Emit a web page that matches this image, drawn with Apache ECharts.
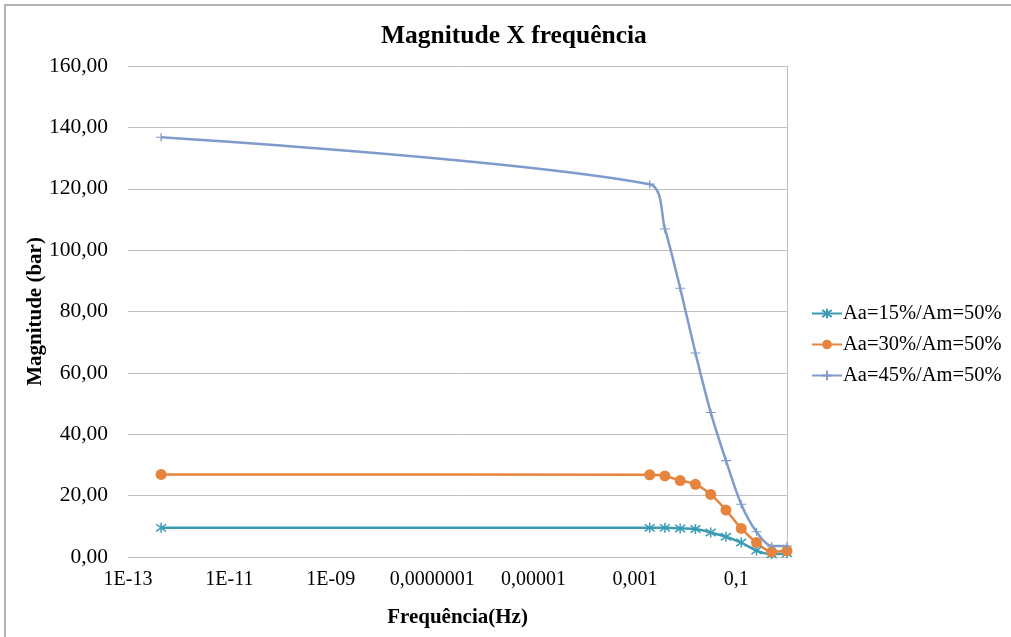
<!DOCTYPE html>
<html>
<head>
<meta charset="utf-8">
<script src="https://cdn.jsdelivr.net/npm/echarts@6/dist/echarts.min.js"></script>
<style>
  html, body { margin: 0; padding: 0; background: #fff; }
  #chart { width: 1011px; height: 637px; }
</style>
</head>
<body>
<div id="chart"></div>
<script>
// Frequency (Hz) of each sample, shared by the three curves
const frequencies = [4.5e-13, 0.001953125, 0.00390625, 0.0078125, 0.015625, 0.03125, 0.0625, 0.125, 0.25, 0.5, 1];

// Magnitude (bar) for each amplitude setting
const mag15 = [9.5, 9.5, 9.5, 9.3, 9.1, 8.0, 6.6, 4.7, 2.1, 0.9, 1.2];
const mag30 = [26.9, 26.8, 26.4, 24.9, 23.7, 20.4, 15.3, 9.3, 4.7, 1.7, 2.0];
const mag45 = [136.8, 121.5, 106.9, 87.6, 66.5, 47.1, 31.4, 17.2, 8.2, 3.6, 3.6];

const seriesNames = ['Aa=15%/Am=50%', 'Aa=30%/Am=50%', 'Aa=45%/Am=50%'];

// Labels shown on the frequency axis, keyed by decade exponent
const xTickLabels = {
  '-13': '1E-13', '-11': '1E-11', '-9': '1E-09', '-7': '0,0000001',
  '-5': '0,00001', '-3': '0,001', '-1': '0,1'
};

const FONT = "'Liberation Serif', 'Times New Roman', serif";
const GRID_COLOR = '#bfbfbf';

const pairs = ys => frequencies.map((f, i) => [f, ys[i]]);

// Marker shapes drawn as stroked paths
const asterisk = 'path://M0,-5L0,5M-3.6,-3.6L3.6,3.6M-3.6,3.6L3.6,-3.6';
const plus = 'path://M-5,0L5,0M0,-4L0,4';

const chart = echarts.init(document.getElementById('chart'));
chart.setOption({
  animation: false,
  backgroundColor: '#ffffff',
  title: {
    text: 'Magnitude X frequência',
    left: 376,
    top: 18,
    textStyle: { fontFamily: FONT, fontSize: 25.5, fontWeight: 'bold', color: '#000' }
  },
  graphic: [{
    type: 'polyline',
    shape: { points: [[5, 700], [5, 5], [1100, 5]] },
    style: { stroke: '#b3b3b3', lineWidth: 2, fill: null }
  }],
  legend: {
    orient: 'vertical',
    left: 806,
    top: 298,
    itemGap: 10,
    itemWidth: 30,
    itemHeight: 12,
    textStyle: { fontFamily: FONT, fontSize: 20.5, color: '#000', padding: [0, 0, 0, -4] },
    data: seriesNames
  },
  grid: { left: 128, right: 224, top: 66, bottom: 80 },
  xAxis: {
    type: 'log',
    logBase: 10,
    min: 1e-13,
    max: 1,
    interval: 1,
    name: 'Frequência(Hz)',
    nameLocation: 'middle',
    nameGap: 50,
    nameTextStyle: { fontFamily: FONT, fontSize: 21, fontWeight: 'bold', color: '#000' },
    axisLine: { show: true, lineStyle: { color: GRID_COLOR, width: 1 } },
    axisTick: { show: false },
    splitLine: { show: false },
    axisLabel: {
      interval: 0,
      margin: 13,
      fontFamily: FONT, fontSize: 20, color: '#000',
      formatter: v => {
        const e = Math.round(Math.log10(v));
        return xTickLabels[String(e)] || '';
      }
    }
  },
  yAxis: [{
    type: 'value',
    min: 0,
    max: 160,
    interval: 20,
    name: 'Magnitude (bar)',
    nameLocation: 'middle',
    nameGap: 82,
    nameMoveOverlap: false,
    nameTextStyle: { fontFamily: FONT, fontSize: 21, fontWeight: 'bold', color: '#000' },
    axisLine: { show: false },
    axisTick: { show: false },
    splitLine: { show: true, lineStyle: { color: GRID_COLOR, width: 1 } },
    axisLabel: {
      margin: 20,
      fontFamily: FONT, fontSize: 21.5, color: '#000',
      formatter: v => v.toFixed(2).replace('.', ',')
    }
  }, {
    type: 'value',
    position: 'right',
    min: 0,
    max: 160,
    interval: 20,
    axisLine: { show: true, lineStyle: { color: GRID_COLOR, width: 1 } },
    axisTick: { show: false },
    axisLabel: { show: false },
    splitLine: { show: false }
  }],
  series: [{
    name: seriesNames[0],
    type: 'line',
    smooth: 0.3,
    data: pairs(mag15),
    symbol: asterisk,
    symbolSize: 10,
    showAllSymbol: true,
    color: '#3b9ab4',
    lineStyle: { width: 2.5, color: '#3b9ab4' },
    itemStyle: { color: '#3b9ab4', borderColor: '#3b9ab4', borderWidth: 1.5 }
  }, {
    name: seriesNames[1],
    type: 'line',
    smooth: 0.3,
    data: pairs(mag30),
    symbol: 'circle',
    symbolSize: 11,
    showAllSymbol: true,
    color: '#e6833c',
    lineStyle: { width: 2.5, color: '#e6833c' },
    itemStyle: { color: '#e6833c', borderColor: '#e6833c', borderWidth: 0 }
  }, {
    name: seriesNames[2],
    type: 'line',
    smooth: 0.3,
    data: pairs(mag45),
    symbol: plus,
    symbolSize: [10, 8],
    showAllSymbol: true,
    color: '#7f9bcc',
    lineStyle: { width: 2.5, color: '#7f9bcc' },
    itemStyle: { color: '#7f9bcc', borderColor: '#7f9bcc', borderWidth: 1.2 }
  }]
});
</script>
</body>
</html>
